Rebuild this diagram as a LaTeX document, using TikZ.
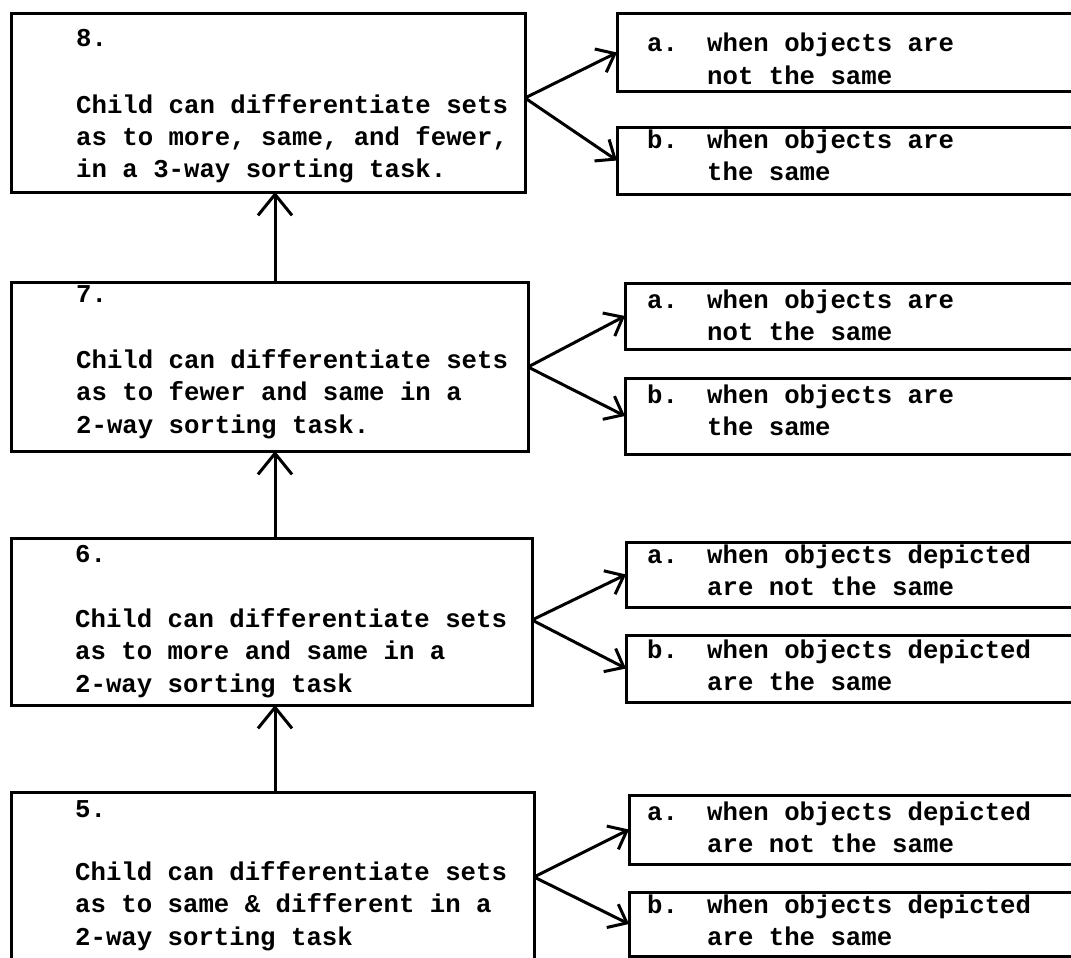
\documentclass[tikz,border=0pt]{standalone}
\usepackage{fontspec}
\usetikzlibrary{arrows.meta}
\newfontfamily\typer{Liberation Mono}
\newcommand\stack[1]{\begin{tabular}[t]{@{}l@{}}#1\end{tabular}}

\begin{document}
\begin{tikzpicture}[x=1pt,y=-1pt,
  frame/.style={draw, line width=3pt, rectangle, inner sep=0pt, outer sep=0pt,
                anchor=north west},
  txt/.style={font=\typer\bfseries\fontsize{25.7pt}{32.5pt}\selectfont,
               inner sep=0pt, anchor=base west},
  rise/.style={line width=3pt, -{Straight Barb[length=21pt,width=34pt]}},
  fork/.style={line width=3pt, -{Straight Barb[length=16pt,width=26pt]}}]

\useasboundingbox (0,0) rectangle (1071,958);

% ---- steps (left column) ----
\node[frame, minimum width=514pt, minimum height=178pt] (m8) at (11,14) {};
\node[frame, minimum width=517pt, minimum height=169pt] (m7) at (11,282) {};
\node[frame, minimum width=521pt, minimum height=167pt] (m6) at (11,538) {};
\node[frame, minimum width=523pt, minimum height=180pt] (m5) at (11,792) {};

\node[txt] (n8) at (76,47) {8.};
\node[txt] (t8) at (76,113) {\stack{Child can differentiate sets\\as to more, same, and fewer,\\in a 3-way sorting task.}};
\node[txt] (n7) at (76,302) {7.};
\node[txt] (t7) at (76,368) {\stack{Child can differentiate sets\\as to fewer and same in a\\2-way sorting task.}};
\node[txt] (n6) at (75,562) {6.};
\node[txt] (t6) at (75,627) {\stack{Child can differentiate sets\\as to more and same in a\\2-way sorting task}};
\node[txt] (n5) at (75,817) {5.};
\node[txt] (t5) at (75,880) {\stack{Child can differentiate sets\\as to same \& different in a\\2-way sorting task}};

% ---- conditions (right column) ----
\node[frame, minimum width=470pt, minimum height=77pt] (r8a) at (617,14) {};
\node[frame, minimum width=470pt, minimum height=67pt] (r8b) at (617,127) {};
\node[frame, minimum width=462pt, minimum height=66pt] (r7a) at (625,283) {};
\node[frame, minimum width=462pt, minimum height=76pt] (r7b) at (625,378) {};
\node[frame, minimum width=461pt, minimum height=65pt] (r6a) at (626,542) {};
\node[frame, minimum width=461pt, minimum height=67pt] (r6b) at (626,635) {};
\node[frame, minimum width=458pt, minimum height=69pt] (r5a) at (629,795) {};
\node[frame, minimum width=458pt, minimum height=64pt] (r5b) at (629,892) {};

\node[txt] (k8a) at (647,52) {a.};
\node[txt] (w8a) at (707,52) {\stack{when objects are\\not the same}};
\node[txt] (k8b) at (647,148) {b.};
\node[txt] (w8b) at (707,148) {\stack{when objects are\\the same}};
\node[txt] (k7a) at (647,308) {a.};
\node[txt] (w7a) at (707,308) {\stack{when objects are\\not the same}};
\node[txt] (k7b) at (647,403) {b.};
\node[txt] (w7b) at (707,403) {\stack{when objects are\\the same}};
\node[txt] (k6a) at (647,563) {a.};
\node[txt] (w6a) at (707,563) {\stack{when objects depicted\\are not the same}};
\node[txt] (k6b) at (647,658) {b.};
\node[txt] (w6b) at (707,658) {\stack{when objects depicted\\are the same}};
\node[txt] (k5a) at (647,820) {a.};
\node[txt] (w5a) at (707,820) {\stack{when objects depicted\\are not the same}};
\node[txt] (k5b) at (647,913) {b.};
\node[txt] (w5b) at (707,913) {\stack{when objects depicted\\are the same}};

% ---- upward progression ----
\coordinate (ux) at (275,0);
\draw[rise] (m7.north -| ux) -- (m8.south -| ux);
\draw[rise] (m6.north -| ux) -- (m7.south -| ux);
\draw[rise] (m5.north -| ux) -- (m6.south -| ux);

% ---- branches to conditions ----
\coordinate (f8) at (525,98);
\coordinate (f7) at (528,367);
\coordinate (f6) at (532,620);
\coordinate (f5) at (534,877);
\draw[fork] (f8) -- (r8a.west);
\draw[fork] (f8) -- (r8b.west);
\draw[fork] (f7) -- (r7a.west);
\draw[fork] (f7) -- (r7b.west);
\draw[fork] (f6) -- (r6a.west);
\draw[fork] (f6) -- (r6b.west);
\draw[fork] (f5) -- (r5a.west);
\draw[fork] (f5) -- (r5b.west);
\end{tikzpicture}
\end{document}
